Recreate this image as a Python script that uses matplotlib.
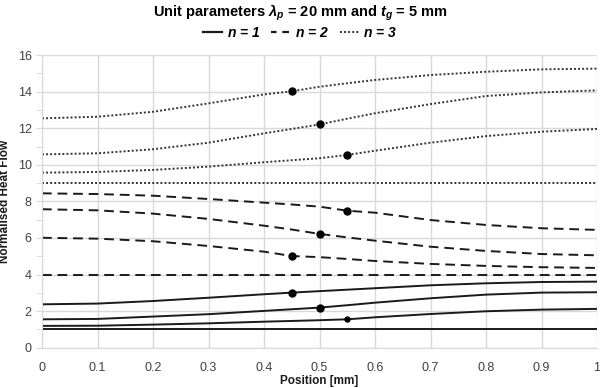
"""
Normalised heat flow against position, three unit parameter sets
"""
import numpy as np
import matplotlib
matplotlib.use('Agg')
import matplotlib.pyplot as plt
from matplotlib.lines import Line2D

plt.rcParams['font.family'] = ['Liberation Sans', 'DejaVu Sans']
plt.rcParams['mathtext.fontset'] = 'custom'
plt.rcParams['mathtext.rm'] = 'Liberation Sans:bold'
plt.rcParams['mathtext.it'] = 'Liberation Sans:italic:bold'
plt.rcParams['mathtext.bf'] = 'Liberation Sans:bold'

# 位置坐标
position = [0, 0.1, 0.2, 0.3, 0.4, 0.45, 0.5, 0.55, 0.6, 0.7, 0.8, 0.9, 1.0]

# n = 1 (实线)
n1_a = [1.0] * 13
n1_b = [1.19, 1.20, 1.26, 1.33, 1.42, 1.46, 1.50, 1.55, 1.66, 1.84, 1.99, 2.08, 2.12]
n1_c = [1.55, 1.57, 1.70, 1.83, 2.01, 2.10, 2.19, 2.32, 2.46, 2.70, 2.90, 3.01, 3.03]
n1_d = [2.37, 2.41, 2.55, 2.73, 2.92, 3.01, 3.09, 3.17, 3.25, 3.41, 3.52, 3.59, 3.61]

# n = 2 (虚线)
n2_a = [4.0] * 13
n2_b = [6.01, 5.96, 5.82, 5.56, 5.25, 5.01, 4.95, 4.85, 4.74, 4.58, 4.47, 4.40, 4.36]
n2_c = [7.57, 7.51, 7.33, 7.04, 6.67, 6.46, 6.22, 6.03, 5.85, 5.52, 5.29, 5.12, 5.05]
n2_d = [8.44, 8.40, 8.31, 8.13, 7.93, 7.83, 7.71, 7.49, 7.38, 6.98, 6.71, 6.53, 6.44]

# n = 3 (点线)
n3_a = [9.0] * 13
n3_b = [9.57, 9.61, 9.72, 9.90, 10.14, 10.25, 10.36, 10.54, 10.77, 11.21, 11.57, 11.81, 11.96]
n3_c = [10.57, 10.63, 10.85, 11.21, 11.72, 11.96, 12.21, 12.52, 12.82, 13.32, 13.76, 13.96, 14.07]
n3_d = [12.54, 12.63, 12.90, 13.36, 13.85, 14.02, 14.27, 14.46, 14.64, 14.91, 15.09, 15.22, 15.26]

# 标记点 (x, y, 大小)
marker_x = [0.45, 0.5, 0.55, 0.55, 0.5, 0.45, 0.45, 0.5, 0.55]
marker_y = [14.02, 12.21, 10.54, 7.49, 6.22, 5.01, 3.01, 2.19, 1.55]
marker_s = [5, 5, 5, 5, 5, 5, 5, 5, 3.6]

x_ticks = [0, 0.1, 0.2, 0.3, 0.4, 0.5, 0.6, 0.7, 0.8, 0.9, 1]
x_labels = ['0', '0.1', '0.2', '0.3', '0.4', '0.5', '0.6', '0.7', '0.8', '0.9', '1']

fig = plt.figure(figsize=(6, 3.88), dpi=100)
ax = fig.add_axes([0.07, 0.104, 0.925, 0.754])

line_col = '#1a1a1a'
styles = {
    'solid': dict(ls='-', lw=1.4),
    'dash': dict(ls=(0, (5, 3)), lw=1.4),
    'dot': dict(ls=(0, (1, 1.1)), lw=1.4),
}
for series in [n1_a, n1_b, n1_c, n1_d]:
    ax.plot(position, series, color=line_col, **styles['solid'])
for series in [n2_a, n2_b, n2_c, n2_d]:
    ax.plot(position, series, color=line_col, **styles['dash'])
for series in [n3_a, n3_b, n3_c, n3_d]:
    ax.plot(position, series, color='#333333', **styles['dot'])

for mx, my, ms in zip(marker_x, marker_y, marker_s):
    ax.plot(mx, my, 'o', color='black', markersize=ms, zorder=5)

ax.set_xlim(0, 1)
ax.set_ylim(0, 16)
ax.set_xticks(x_ticks)
ax.set_xticklabels(x_labels)
ax.set_yticks(np.arange(0, 17, 2))
ax.set_yticks(np.arange(1, 16, 2), minor=True)
ax.grid(True, which='major', color='#d9d9d9', lw=1.0)
ax.set_axisbelow(True)
for sp in ['top', 'right']:
    ax.spines[sp].set_visible(False)
for sp in ['left', 'bottom']:
    ax.spines[sp].set_color('#d9d9d9')
ax.tick_params(axis='both', which='both', colors='#d9d9d9', labelcolor='#404040',
               labelsize=9, length=4)
ax.tick_params(axis='x', length=0, pad=10)

ax.set_xlabel('Position [mm]', fontsize=8.5, fontweight='bold', color='#1a1a1a')
ax.xaxis.set_label_coords(0.5, -0.092)
ax.set_ylabel('Normalised Heat Flow', fontsize=8.5, fontweight='bold', color='#1a1a1a')
ax.yaxis.set_label_coords(-0.055, 0.5)

fig.text(0.5, 0.968, r'Unit parameters $\lambda_p$ = 20 mm and $t_g$ = 5 mm',
         ha='center', va='center', fontsize=10.5, fontweight='bold')

# 图例句柄
handles = [
    Line2D([], [], color=line_col, ls='-', lw=1.6),
    Line2D([], [], color=line_col, ls=(0.5, (3, 2.6)), lw=1.6),
    Line2D([], [], color='#333333', ls=(0, (1, 1.1)), lw=1.4),
]
labels = [r'$n$ = 1', r'$n$ = 2', r'$n$ = 3']
leg = fig.legend(handles, labels, loc='center', bbox_to_anchor=(0.5, 0.915), ncol=3,
                 frameon=False, handlelength=1.4, handletextpad=0.3, columnspacing=0.8,
                 prop=dict(size=10, weight='bold', style='italic'))

fig.savefig('out.png', dpi=100)
